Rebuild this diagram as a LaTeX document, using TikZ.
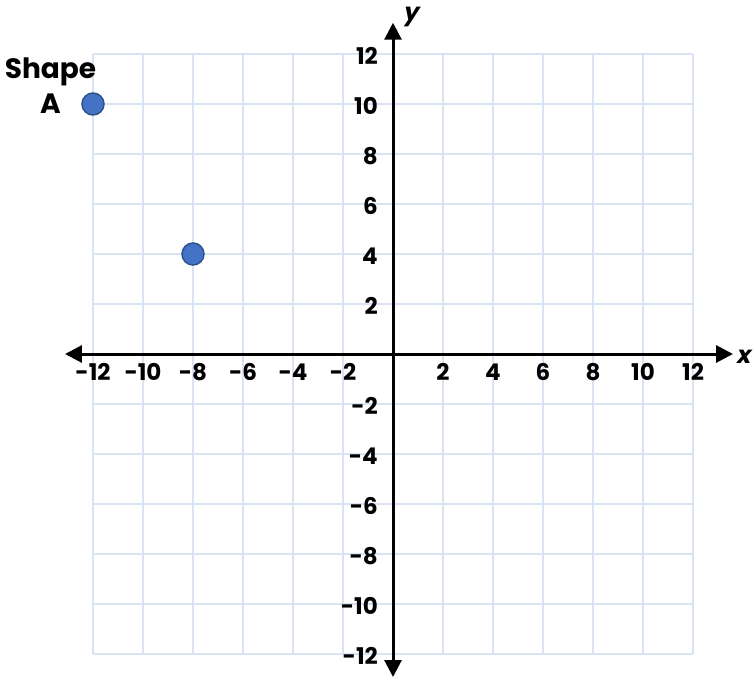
\documentclass[tikz,border=0pt]{standalone}
\usepackage{fontspec}
\setmainfont{Poppins}
\newfontfamily\slantfont[FakeSlant=0.22]{Poppins}
\usetikzlibrary{arrows.meta,positioning}
\definecolor{gridblue}{RGB}{218,227,243}
\definecolor{dotblue}{RGB}{68,114,196}
\definecolor{dotedge}{RGB}{47,82,143}

\begin{document}
\begin{tikzpicture}[x=25pt, y=25pt,
    gridline/.style={draw=gridblue, line width=2pt},
    axis/.style={line width=3pt, >={Triangle[length=17pt,width=17pt]}, <->},
    tick/.style={font=\bfseries\fontsize{23}{25}\selectfont, inner sep=0pt},
    axlabel/.style={font=\slantfont\bfseries\fontsize{24}{26}\selectfont, inner sep=0pt},
    dot/.style={circle, fill=dotblue, draw=dotedge, line width=1.5pt,
                minimum size=22pt, inner sep=0pt}
]
\useasboundingbox (-15.72,-12.92) rectangle (14.44,14.16);
\draw[gridline] (-12,-12) grid[step=2] (12,12);

% axes
\coordinate (xl) at (-13.12,0);
\coordinate (xr) at (13.6,0);
\coordinate (yb) at (0,-12.92);
\coordinate (yt) at (0,13.25);
\draw[axis] (xl) -- (xr);
\draw[axis] (yb) -- (yt);
\node[axlabel] (xlab) at (14.0,-0.1) {x};
\node[axlabel] (ylab) at (0.7,13.5) {y};

% tick labels
\foreach \x in {-12,-10,-8,-6,-4,-2,2,4,6,8,10,12}
  \node[tick] (tx\x) at (\x,-0.72) {\x};
\foreach \y in {-12,-10,-8,-6,-4,-2,2,4,6,8,10,12}
  \node[tick, anchor=east] (ty\y) at (-0.6,\y-0.08) {\y};

% points
\node[dot] (p1) at (-12,10) {};
\node[dot] (p2) at (-8,4) {};
\node[font=\bfseries\fontsize{28}{35}\selectfont, align=center, inner sep=0pt]
  (shapeA) at (-13.7,10.72) {Shape\\A};
\end{tikzpicture}
\end{document}
